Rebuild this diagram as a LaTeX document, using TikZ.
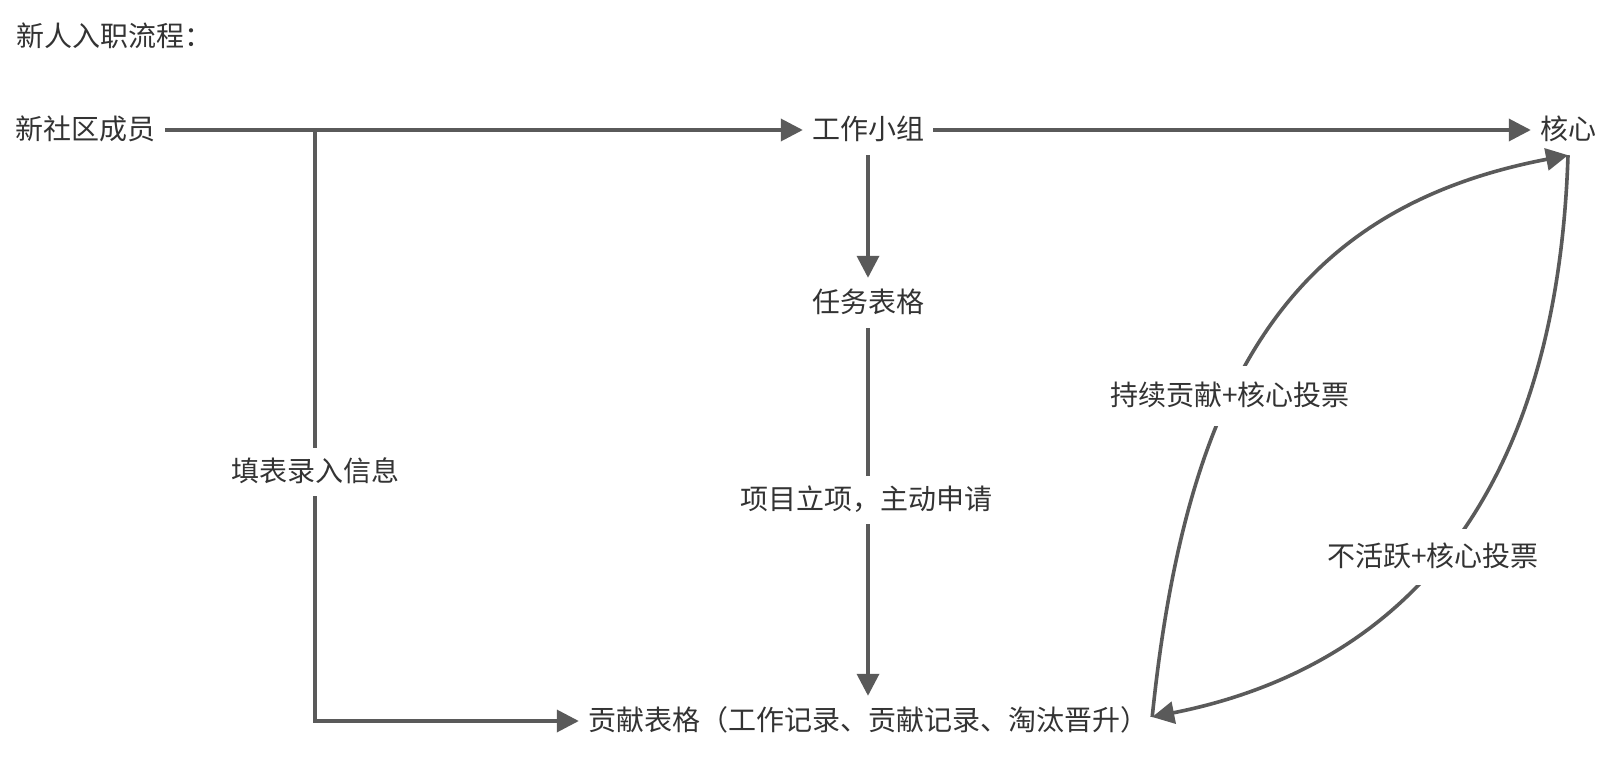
\documentclass[tikz,border=0pt]{standalone}
\usepackage{fontspec}
\setmainfont{Noto Sans CJK SC}
\usetikzlibrary{arrows.meta}
\definecolor{lc}{HTML}{5A5A5A}
\definecolor{tc}{HTML}{333333}
\begin{document}
\begin{tikzpicture}[x=1pt,y=-1pt,
  every node/.style={font=\fontsize{28}{34}\selectfont, text=tc,
    execute at begin node={\lower6pt\hbox\bgroup}, execute at end node={\egroup}},
  item/.style={inner xsep=9pt, inner ysep=20pt, text height=0.88em, text depth=0.12em},
  lbl/.style={fill=white, inner xsep=6pt, inner ysep=19pt, text height=0.88em, text depth=0.12em},
  clbl/.style={lbl, inner ysep=25pt},
  conn/.style={draw=lc, line width=3.6pt, -{Triangle[length=22pt,width=22pt]}}]
\useasboundingbox (0,0) rectangle (1611,757);
\fill[white] (0,0) rectangle (1611,757);

\node[anchor=west, inner sep=0pt, text height=0.88em, text depth=0.12em] (title) at (16,37) {新人入职流程：};

\node[item] (xin) at (86,130) {新社区成员};
\node[item] (gz)  at (868,130) {工作小组};
\node[item] (hx)  at (1568,130) {核心};
\node[item] (rw)  at (868,303) {任务表格};
\node[item] (gx)  at (868,721) {贡献表格（工作记录、贡献记录、淘汰晋升）};

\coordinate (split) at (315,130);
\coordinate (gxe) at ([xshift=-5pt,yshift=4pt]gx.east);

\draw[conn] (xin) -- (gz);
\draw[conn] (gz) -- (hx);
\draw[conn] (gz) -- (rw);
\draw[conn] (split) |- (gx.west);
\draw[conn] (rw) -- (gx);

\draw[conn] (gxe) .. controls (1187,378) and (1293,208) .. (hx.south);
\draw[conn] (hx.south) .. controls (1557,496) and (1404,667) .. (gxe);

\node[lbl] (l1) at (315,472) {填表录入信息};
\node[lbl] (l2) at (866,500) {项目立项，主动申请};
\node[clbl] (l3) at (1230,396) {持续贡献+核心投票};
\node[clbl, inner ysep=23pt] (l4) at (1433,557) {不活跃+核心投票};
\end{tikzpicture}
\end{document}
